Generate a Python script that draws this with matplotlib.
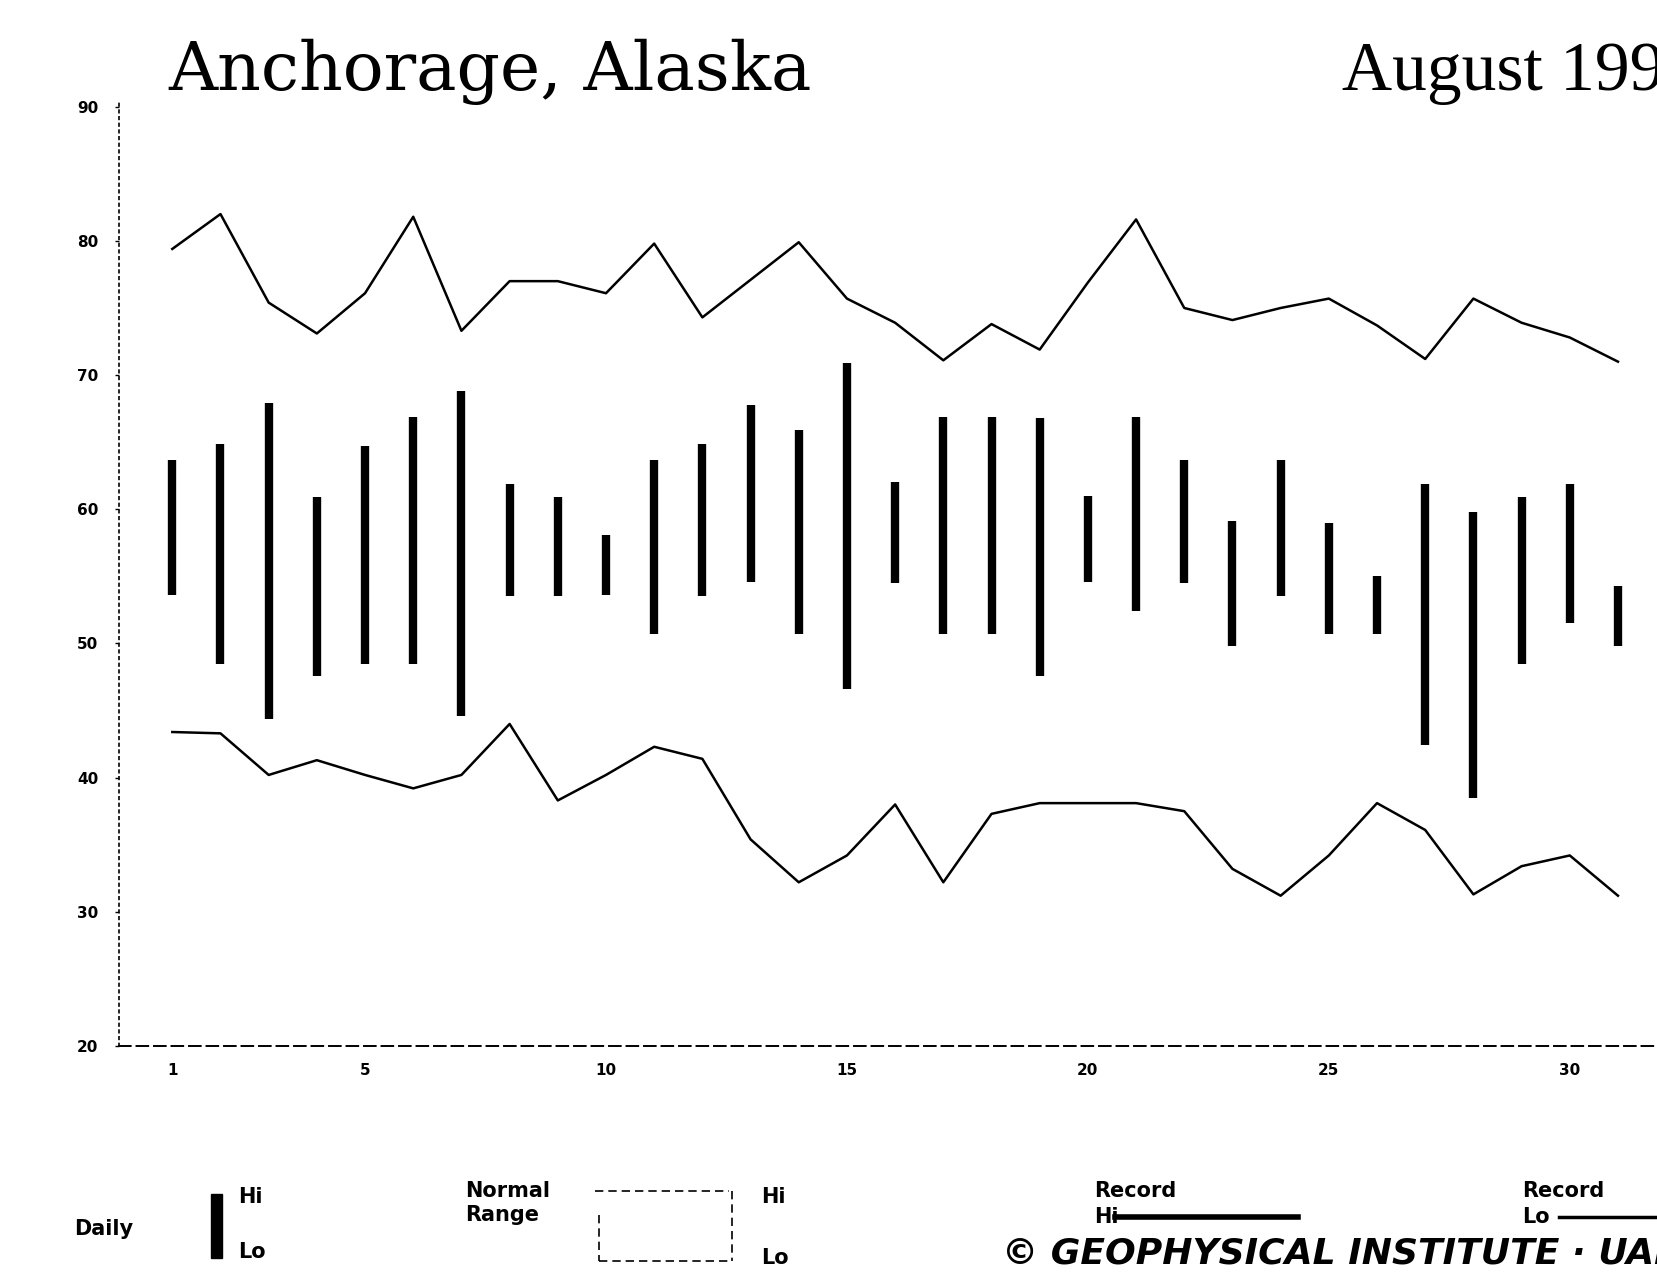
import matplotlib.pyplot as plt
from matplotlib.lines import Line2D
from matplotlib.patches import Rectangle

# August 1996, Anchorage (deg F)
days = list(range(1, 32))
daily_hi = [63.7, 64.9, 67.9, 60.9, 64.7, 66.9, 68.8, 61.9, 60.9, 58.1,
            63.7, 64.9, 67.8, 65.9, 70.9, 62.0, 66.9, 66.9, 66.8, 61.0,
            66.9, 63.7, 59.1, 63.7, 59.0, 55.0, 61.9, 59.8, 60.9, 61.9, 54.3]
daily_lo = [53.6, 48.5, 44.4, 47.6, 48.5, 48.5, 44.6, 53.5, 53.5, 53.6,
            50.7, 53.5, 54.6, 50.7, 46.6, 54.5, 50.7, 50.7, 47.6, 54.6,
            52.4, 54.5, 49.8, 53.5, 50.7, 50.7, 42.4, 38.5, 48.5, 51.5, 49.8]
record_hi = [79.4, 82.0, 75.4, 73.1, 76.1, 81.8, 73.3, 77.0, 77.0, 76.1,
             79.8, 74.3, 77.1, 79.9, 75.7, 73.9, 71.1, 73.8, 71.9, 76.9,
             81.6, 75.0, 74.1, 75.0, 75.7, 73.7, 71.2, 75.7, 73.9, 72.8, 71.0]
record_lo = [43.4, 43.3, 40.2, 41.3, 40.2, 39.2, 40.2, 44.0, 38.3, 40.2,
             42.3, 41.4, 35.4, 32.2, 34.2, 38.0, 32.2, 37.3, 38.1, 38.1,
             38.1, 37.5, 33.2, 31.2, 34.2, 38.1, 36.1, 31.3, 33.4, 34.2, 31.2]
yticks = [20, 30, 40, 50, 60, 70, 80, 90]
xticks = [1, 5, 10, 15, 20, 25, 30]

W, H = 1657, 1278
fig = plt.figure(figsize=(W / 100, H / 100), dpi=100)
ax = fig.add_axes([119 / W, (H - 1046) / H, (W - 119) / W, (1046 - 100) / H])

ax.vlines(days, daily_lo, daily_hi, color='black', lw=6)
ax.plot(days, record_hi, color='black', lw=1.8)
ax.plot(days, record_lo, color='black', lw=1.8)

ax.set_xlim(-0.106, 31.81)
ax.set_ylim(20, 90.5)
ax.set_xticks(xticks)
ax.set_yticks(yticks)
ax.tick_params(axis='x', length=0, pad=12, labelsize=11)
ax.tick_params(axis='y', length=3, width=1, pad=12, labelsize=11, direction='out')
for lab in ax.get_xticklabels() + ax.get_yticklabels():
    lab.set_fontweight('bold')
for s in ['top', 'right']:
    ax.spines[s].set_visible(False)
ax.spines['left'].set_linestyle((0, (1.5, 2.5)))
ax.spines['left'].set_linewidth(1.2)
ax.spines['bottom'].set_linestyle((0, (6, 3)))
ax.spines['bottom'].set_linewidth(1.4)

# title row
fig.text(168 / W, 1 - 90 / H, 'Anchorage, Alaska', family='DejaVu Serif',
         fontsize=49, ha='left', va='baseline')
fig.text(1342 / W, 1 - 90 / H, 'August 1996', family='Liberation Serif',
         fontsize=50, ha='left', va='baseline')

# legend row (figure pixel coords)
def px(x, y):
    return x / W, 1 - y / H

lt = dict(fontsize=15, fontweight='bold', family='DejaVu Sans Condensed')
fig.text(*px(74, 1229), 'Daily', va='center', **lt)
fig.add_artist(Rectangle(px(211, 1258), 11 / W, 64 / H, color='black',
                         transform=fig.transFigure))
fig.text(*px(238, 1197), 'Hi', va='center', **lt)
fig.text(*px(238, 1252), 'Lo', va='center', **lt)

fig.text(*px(465, 1191), 'Normal', va='center', **lt)
fig.text(*px(465, 1215), 'Range', va='center', **lt)
box = [((595, 1191), (729, 1191)), ((732, 1191), (732, 1261)),
       ((599, 1261), (732, 1261)), ((599, 1215), (599, 1261))]
for (x0, y0), (x1, y1) in box:
    a, b = px(x0, y0)
    c, d = px(x1, y1)
    fig.add_artist(Line2D([a, c], [b, d], color='black', lw=1.2,
                          ls=(0, (5, 3)), transform=fig.transFigure))
fig.text(*px(761, 1197), 'Hi', va='center', **lt)
fig.text(*px(761, 1258), 'Lo', va='center', **lt)

fig.text(*px(1094, 1191), 'Record', va='center', **lt)
fig.text(*px(1094, 1217), 'Hi', va='center', **lt)
a, b = px(1115, 1217)
c, d = px(1298, 1217)
fig.add_artist(Line2D([a, c], [b, d], color='black', lw=4,
                      transform=fig.transFigure))
fig.text(*px(1522, 1191), 'Record', va='center', **lt)
fig.text(*px(1522, 1217), 'Lo', va='center', **lt)
a, b = px(1559, 1217)
c, d = px(1657, 1217)
fig.add_artist(Line2D([a, c], [b, d], color='black', lw=2.5,
                      transform=fig.transFigure))

fig.text(*px(1002, 1253), '\u00a9 GEOPHYSICAL INSTITUTE \u00b7 UAF', va='center',
         fontsize=26, fontstyle='italic', fontweight='bold')

fig.savefig('out.png', dpi=100, facecolor='white')
